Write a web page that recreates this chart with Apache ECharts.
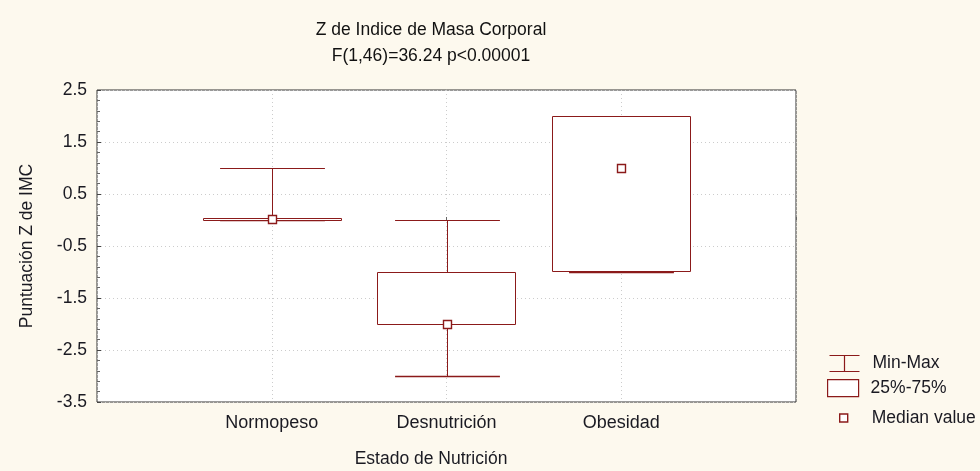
<!DOCTYPE html>
<html>
<head>
<meta charset="utf-8">
<script src="https://cdn.jsdelivr.net/npm/echarts@6/dist/echarts.min.js"></script>
<style>
  html, body { margin: 0; padding: 0; background: #fdf9ee; }
  #chart { width: 980px; height: 471px; }
</style>
</head>
<body>
<div id="chart"></div>
<script>
// box plot values
const categories = ['Normopeso', 'Desnutrición', 'Obesidad'];
const minVals = [0.0, -3.0, -1.0];
const q1Vals = [0.0, -2.0, -0.98];
const medianVals = [0.01, -2.0, 1.0];
const q3Vals = [0.03, -1.0, 2.0];
const maxVals = [1.0, 0.0, 2.0];
const yTicks = [-3.5, -2.5, -1.5, -0.5, 0.5, 1.5, 2.5];

const RED = '#8b1a1a';
const INK = '#1a1a22';
const FONT = '"Liberation Sans", Arial, sans-serif';

const boxData = categories.map((c, i) => [i + 1, minVals[i], q1Vals[i], medianVals[i], q3Vals[i], maxVals[i]]);

const crisp = (v) => Math.round(v) + 0.5;

function hLine(x1, x2, y, w) {
  return { type: 'line', shape: { x1: x1, y1: crisp(y), x2: x2, y2: crisp(y) }, style: { stroke: RED, lineWidth: w || 1 } };
}

function renderWhisker(params, api) {
  const x = api.value(0);
  const band = api.size([1, 0])[0];
  const capW = band * 0.6;
  const pMin = api.coord([x, api.value(1)]);
  const pQ1 = api.coord([x, api.value(2)]);
  const pQ3 = api.coord([x, api.value(4)]);
  const pMax = api.coord([x, api.value(5)]);
  const cx = crisp(pMin[0]);
  return {
    type: 'group',
    children: [
      { type: 'line', shape: { x1: cx, y1: pMax[1], x2: cx, y2: pQ3[1] }, style: { stroke: RED, lineWidth: 1 } },
      { type: 'line', shape: { x1: cx, y1: pQ1[1], x2: cx, y2: pMin[1] }, style: { stroke: RED, lineWidth: 1 } },
      hLine(cx - capW / 2, cx + capW / 2, pMax[1]),
      hLine(cx - capW / 2, cx + capW / 2, pMin[1], 1.6)
    ]
  };
}

function renderBox(params, api) {
  const x = api.value(0);
  const band = api.size([1, 0])[0];
  const boxW = band * 0.79;
  const pQ1 = api.coord([x, api.value(2)]);
  const pQ3 = api.coord([x, api.value(4)]);
  return {
    type: 'rect',
    shape: {
      x: crisp(pQ1[0] - boxW / 2), y: crisp(pQ3[1]),
      width: Math.round(boxW), height: Math.max(1, Math.round(pQ1[1] - pQ3[1]))
    },
    style: { fill: '#fff', stroke: RED, lineWidth: 1 }
  };
}

function renderMedian(params, api) {
  const p = api.coord([api.value(0), api.value(3)]);
  return {
    type: 'rect',
    shape: { x: crisp(p[0] - 4), y: crisp(p[1] - 4), width: 8, height: 8 },
    style: { fill: '#fff', stroke: RED, lineWidth: 1.4 }
  };
}

const chart = echarts.init(document.getElementById('chart'));

const legendText = (pad) => ({ fontFamily: FONT, fontSize: 17.5, color: INK, padding: [0, 0, 0, pad] });

chart.setOption({
  backgroundColor: '#fdf9ee',
  animation: false,
  graphic: [
    { type: 'text', x: 431, y: 30, style: { text: 'Z de Indice de Masa Corporal', font: '17.5px ' + FONT, fill: '#111', align: 'center', verticalAlign: 'middle' } },
    { type: 'text', x: 431, y: 56, style: { text: 'F(1,46)=36.24 p<0.00001', font: '17.5px ' + FONT, fill: '#111', align: 'center', verticalAlign: 'middle' } },
    { type: 'text', x: 431, y: 459, style: { text: 'Estado de Nutrición', font: '17.5px ' + FONT, fill: INK, align: 'center', verticalAlign: 'middle' } }
  ],
  legend: [
    {
      orient: 'vertical', padding: 0, selectedMode: false,
      left: 827, top: 353, itemWidth: 30, itemHeight: 16,
      textStyle: legendText(8),
      data: [{ name: 'Min-Max', icon: 'path://M0,0H30M15,0V16M0,16H30', itemStyle: { color: 'none', borderColor: RED, borderWidth: 1.2 } }]
    },
    {
      orient: 'vertical', padding: 0, selectedMode: false,
      left: 827, top: 379, itemWidth: 31, itemHeight: 17,
      textStyle: legendText(7),
      data: [{ name: '25%-75%', icon: 'rect', itemStyle: { color: '#fff', borderColor: RED, borderWidth: 1.2 } }]
    },
    {
      orient: 'vertical', padding: 0, selectedMode: false,
      left: 839, top: 409, itemWidth: 8, itemHeight: 8,
      textStyle: legendText(19),
      data: [{ name: 'Median value', icon: 'rect', itemStyle: { color: '#fff', borderColor: RED, borderWidth: 1.4 } }]
    }
  ],
  grid: {
    left: 97, right: 184, top: 90, bottom: 69,
    show: true, backgroundColor: '#fff', borderColor: '#333', borderWidth: 1
  },
  xAxis: {
    type: 'value', min: 0, max: 4, interval: 1,
    axisLine: { show: false },
    axisTick: { show: true, inside: true, length: 3, lineStyle: { color: '#666' } },
    axisLabel: {
      margin: 12, fontFamily: FONT, fontSize: 18, color: INK,
      formatter: (v) => categories[v - 1] || ''
    },
    splitLine: { show: true, lineStyle: { color: '#cccccc', type: [1, 3] } }
  },
  yAxis: {
    type: 'value', min: yTicks[0], max: yTicks[yTicks.length - 1], interval: 1,
    name: 'Puntuación Z de IMC', nameLocation: 'middle', nameGap: 61, nameRotate: 90,
    nameTextStyle: { fontFamily: FONT, fontSize: 17.5, color: INK },
    axisLine: { show: false },
    axisTick: { show: true, inside: true, length: 4, lineStyle: { color: '#444' } },
    minorTick: { show: true, splitNumber: 5, length: 3, lineStyle: { color: '#666' } },
    axisLabel: {
      margin: 10, fontFamily: FONT, fontSize: 17.5, color: INK,
      formatter: (v) => v.toFixed(1)
    },
    splitLine: { show: true, lineStyle: { color: '#cccccc', type: [1, 3] } }
  },
  series: [
    { name: 'Min-Max', type: 'custom', renderItem: renderWhisker, data: boxData, encode: { x: 0, y: [1, 5] }, z: 2, clip: false },
    { name: '25%-75%', type: 'custom', renderItem: renderBox, data: boxData, encode: { x: 0, y: [2, 4] }, z: 3, clip: false },
    { name: 'Median value', type: 'custom', renderItem: renderMedian, data: boxData, encode: { x: 0, y: 3 }, z: 4, clip: false }
  ]
});
</script>
</body>
</html>
